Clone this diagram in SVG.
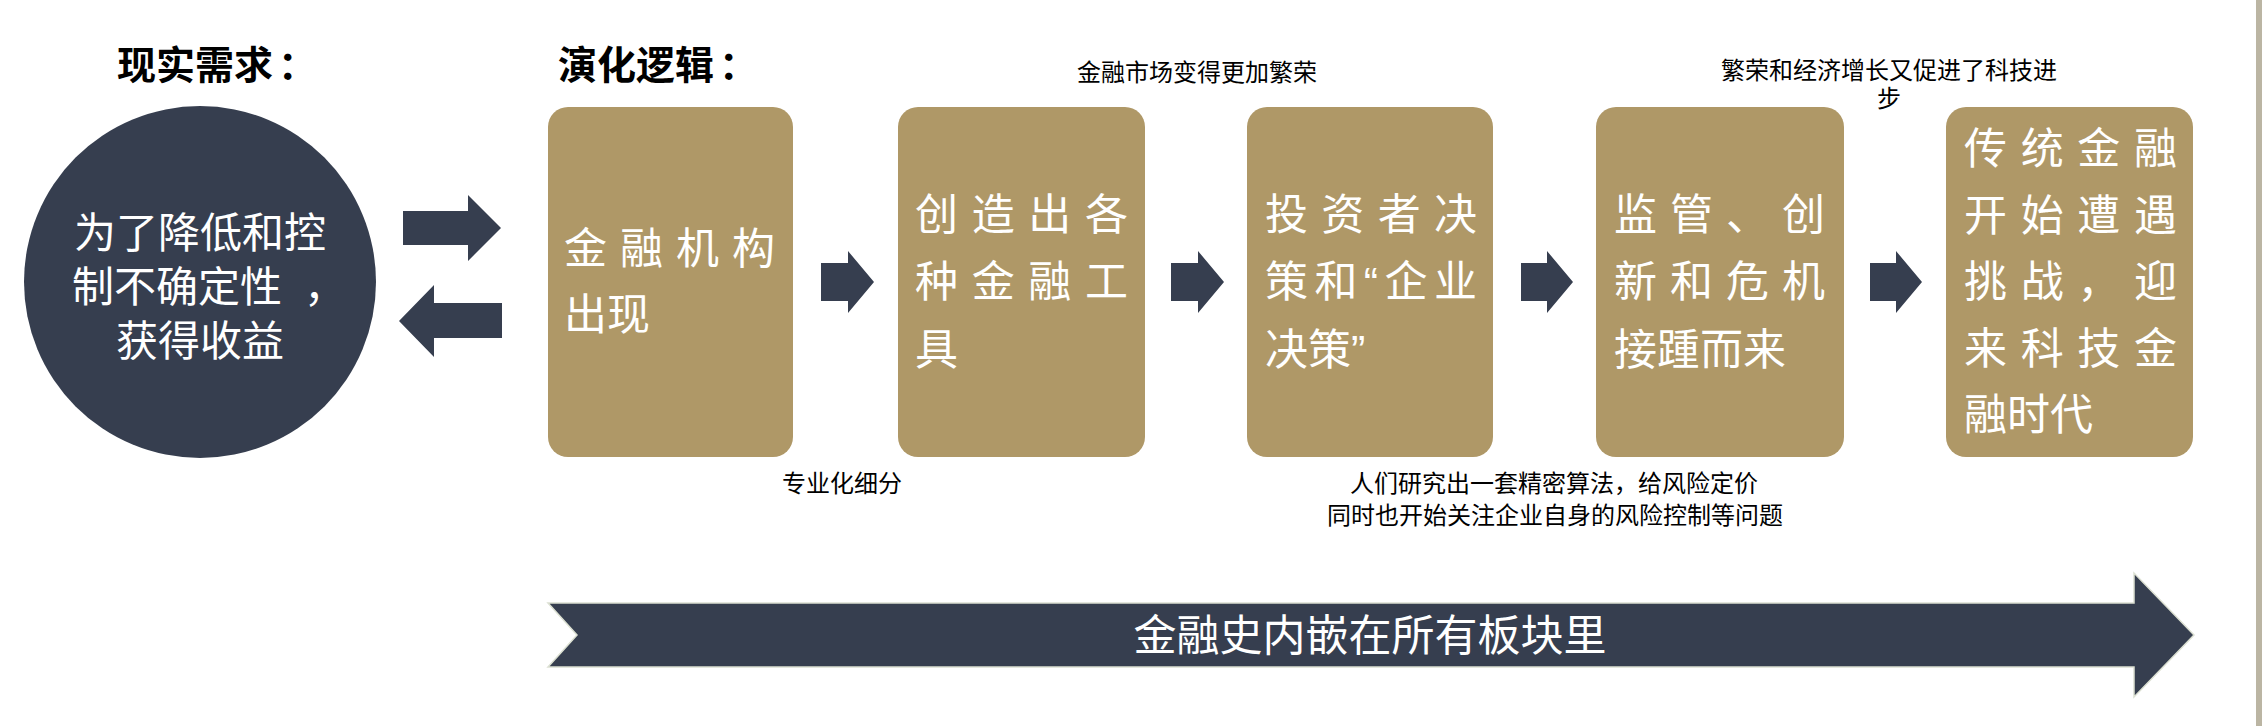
<svg xmlns="http://www.w3.org/2000/svg" width="2262" height="726" viewBox="0 0 2262 726">
<defs>
<style>
.box{fill:#AF9867;}
.dark{fill:#363E4F;}
.cjk{font-family:"Noto Sans CJK SC","Liberation Sans",sans-serif;}
.lat{font-family:"Liberation Sans","Noto Sans CJK SC",sans-serif;}
.title{font-size:39px;font-weight:bold;fill:#000;}
.btxt{font-size:43px;fill:#fff;}
.note{font-size:24px;fill:#000;text-anchor:middle;}
</style>
</defs>
<rect x="0" y="0" width="2262" height="726" fill="#fff"/>
<rect x="2256" y="0" width="6" height="726" fill="#BBB5A3"/>

<g id="titles" class="cjk title">
<text x="117" y="79">现实需求<tspan dx="5">：</tspan></text>
<text x="558" y="79">演化逻辑<tspan dx="5">：</tspan></text>
</g>

<g id="need">
<circle cx="200" cy="282" r="176" class="dark"/>
<g class="cjk btxt" style="font-size:42px">
<text x="200" y="248" text-anchor="middle">为了降低和控</text>
<text x="72" y="302">制不确定性<tspan dx="22">，</tspan></text>
<text x="200" y="356" text-anchor="middle">获得收益</text>
</g>
</g>

<g id="connectors">
<polygon class="dark" points="403,211 468,211 468,195 501,228 468,261 468,245 403,245"/>
<polygon class="dark" points="502,303 434,303 434,285 399,321 434,357 434,338 502,338"/>
<polygon class="dark" points="821,263 848,263 848,251 874,282 848,313 848,301 821,301"/>
<polygon class="dark" points="1171,263 1198,263 1198,251 1224,282 1198,313 1198,301 1171,301"/>
<polygon class="dark" points="1521,263 1547,263 1547,251 1573,282 1547,313 1547,301 1521,301"/>
<polygon class="dark" points="1870,263 1896,263 1896,251 1922,282 1896,313 1896,301 1870,301"/>
</g>

<g id="box1">
<rect class="box" x="548" y="107" width="245" height="350" rx="20"/>
<g class="cjk btxt">
<text x="564" y="264" textLength="211" lengthAdjust="spacing">金融机构</text>
<text x="564" y="330">出现</text>
</g>
</g>

<g id="box2">
<rect class="box" x="898" y="107" width="247" height="350" rx="20"/>
<g class="cjk btxt">
<text x="915" y="230" textLength="213" lengthAdjust="spacing">创造出各</text>
<text x="915" y="297" textLength="213" lengthAdjust="spacing">种金融工</text>
<text x="915" y="365">具</text>
</g>
</g>

<g id="box3">
<rect class="box" x="1247" y="107" width="246" height="350" rx="20"/>
<g class="cjk btxt">
<text x="1265" y="230" textLength="212" lengthAdjust="spacing">投资者决</text>
<text x="1265" y="297" textLength="212" lengthAdjust="spacing">策和<tspan class="lat">“</tspan>企业</text>
<text x="1265" y="365">决策<tspan class="lat">”</tspan></text>
</g>
</g>

<g id="box4">
<rect class="box" x="1596" y="107" width="248" height="350" rx="20"/>
<g class="cjk btxt">
<text x="1614" y="230" textLength="211" lengthAdjust="spacing">监管、创</text>
<text x="1614" y="297" textLength="211" lengthAdjust="spacing">新和危机</text>
<text x="1614" y="365">接踵而来</text>
</g>
</g>

<g id="box5">
<rect class="box" x="1946" y="107" width="247" height="350" rx="20"/>
<g class="cjk btxt">
<text x="1964" y="164" textLength="213" lengthAdjust="spacing">传统金融</text>
<text x="1964" y="231" textLength="213" lengthAdjust="spacing">开始遭遇</text>
<text x="1964" y="297" textLength="213" lengthAdjust="spacing">挑战，迎</text>
<text x="1964" y="364" textLength="213" lengthAdjust="spacing">来科技金</text>
<text x="1964" y="430">融时代</text>
</g>
</g>

<g id="notes" class="cjk note">
<text x="1197" y="81">金融市场变得更加繁荣</text>
<text x="1889" y="79">繁荣和经济增长又促进了科技进</text>
<text x="1889" y="107">步</text>
<text x="842" y="492">专业化细分</text>
<text x="1554" y="492">人们研究出一套精密算法，给风险定价</text>
<text x="1555" y="524">同时也开始关注企业自身的风险控制等问题</text>
</g>

<g id="timeline">
<polygon class="dark" stroke="#DCE0D2" stroke-width="1.5" points="548,603 2134,603 2134,573 2194,635 2134,697 2134,667 548,667 577,635"/>
<text class="cjk" x="1370" y="651" font-size="43" fill="#fff" text-anchor="middle">金融史内嵌在所有板块里</text>
</g>
</svg>
